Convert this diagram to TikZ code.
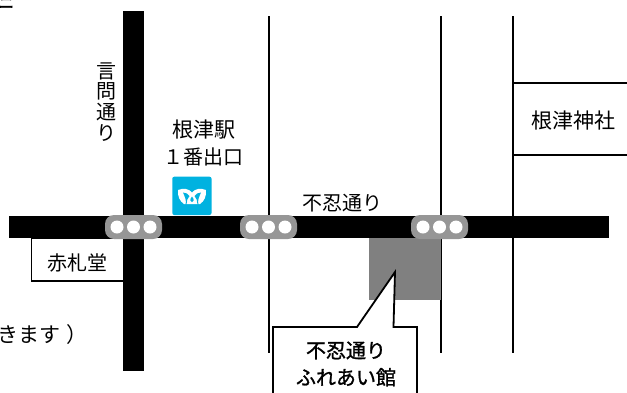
\documentclass[tikz,border=0pt]{standalone}
\usepackage{fontspec}
\setmainfont{Noto Sans CJK JP}
\newfontfamily\cjkbold[FakeBold=1.2]{Noto Sans CJK JP}
\newfontfamily\cjkheavy[FakeBold=4]{Noto Sans CJK JP}
\definecolor{metro}{RGB}{0,178,224}
\definecolor{lightgray}{RGB}{150,150,150}
\definecolor{site}{RGB}{128,128,128}
\tikzset{
  road/.style={fill=black,draw=none},
  thinline/.style={draw=black,line width=1.8pt},
  boxline/.style={draw=black,line width=1.5pt,fill=white},
  lightbody/.style={fill=lightgray,draw=none,rounded corners=9pt},
  lamp/.style={fill=white,draw=none,circle,minimum size=13pt,inner sep=0pt},
  lab/.style={inner sep=0pt,font=\fontsize{20}{22}\selectfont,align=center},
  labl/.style={inner sep=0pt,font=\fontsize{21}{22}\selectfont,align=center},
  labb/.style={inner sep=0pt,font=\cjkbold\fontsize{20}{27}\selectfont,align=center}
}
\begin{document}
\begin{tikzpicture}[x=1pt,y=-1pt]
\useasboundingbox (0,0) rectangle (627,392);
\clip (0,0) rectangle (627,392);
% fragments of cut-off text
\node[inner sep=0pt,font=\cjkheavy\fontsize{15}{15}\selectfont,anchor=east] (frag1) at (14,3.5) {ニ};
\node[labl,anchor=east] (frag2) at (88,335) {きます\hspace{6pt}）};
% thin streets
\draw[thinline] (269,16) -- (269,353);
\draw[thinline] (441,16) -- (441,353);
\draw[thinline] (513,16) -- (513,353);
% buildings
\draw[boxline,fill=white] (627,83) -- (513.5,83) -- (513.5,155) -- (627,155);
\draw[boxline] (123,238) -- (31.5,238) -- (31.5,281) -- (123,281);
\fill[site] (369,238) rectangle (441,300);
% roads
\fill[road] (9,216) rectangle (609,238);
\fill[road] (123,11) rectangle (144,371);
% traffic lights
\foreach \nm/\xa in {la/105,lb/240,lc/411}{
  \fill[lightbody] (\xa,215) rectangle ++(57,24);
  \node[lamp] (\nm1) at (\xa+12,227) {};
  \node[lamp] (\nm2) at (\xa+28.5,227) {};
  \node[lamp] (\nm3) at (\xa+45,227) {};
}
% metro icon
\fill[metro,rounded corners=2pt] (172.3,176.7) rectangle (211.5,215);
\fill[white]
  (178,190) .. controls (184,187.5) and (189,189) .. (192,192.5)
  .. controls (195,189) and (200,187.5) .. (206,190)
  .. controls (206.5,196) and (204.5,201) .. (200,204)
  .. controls (198,204) and (196,204) .. (192,204)
  .. controls (188,204) and (186,204) .. (184,204)
  .. controls (179.5,201) and (177.5,196) .. (178,190) -- cycle;
\fill[metro]
  (183,192.5) .. controls (186,192.5) and (188,194) .. (189.5,196)
  .. controls (187.5,198) and (186.5,201) .. (186.5,204.5)
  -- (185.5,204.5) .. controls (187,201) and (184.5,196) .. (183,192.5) -- cycle;
\fill[metro]
  (201,192.5) .. controls (198,192.5) and (196,194) .. (194.5,196)
  .. controls (196.5,198) and (197.5,201) .. (197.5,204.5)
  -- (198.5,204.5) .. controls (197,201) and (199.5,196) .. (201,192.5) -- cycle;
\fill[metro] (192,196.5) .. controls (189.5,199.5) and (190,202) .. (192,202)
  .. controls (194,202) and (194.5,199.5) .. (192,196.5) -- cycle;
% callout
\draw[boxline,line width=1.8pt,line join=miter] (273,400) -- (273,327) -- (357,327) -- (395,272) -- (393.5,327) -- (417,327) -- (417,400);
% labels
\node[labl] (station) at (204,130) {根津駅};
\node[lab] (exit) at (203,157) {１番出口};
\node[lab,font=\fontsize{20}{20.8}\selectfont] (kototoi) at (106,102) {言\\問\\通\\り};
\node[lab] (shinobazu) at (342,203) {不忍通り};
\node[lab] (akafuda) at (77,263) {赤札堂};
\node[labl] (nezu) at (573,121) {根津神社};
\node[labb] (fureai) at (346,364) {不忍通り\\ふれあい館};
\end{tikzpicture}
\end{document}
